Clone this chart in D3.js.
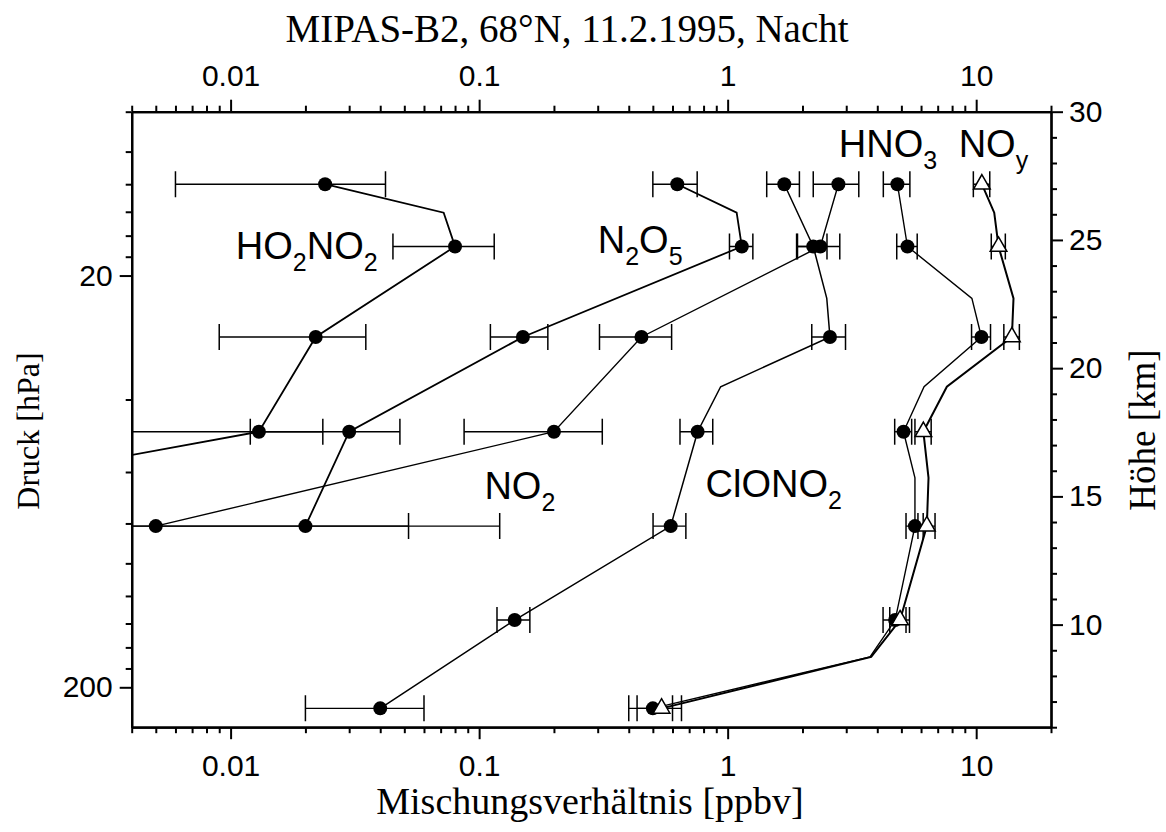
<!DOCTYPE html>
<html>
<head>
<meta charset="utf-8">
<script src="https://cdn.jsdelivr.net/npm/d3@7"></script>
<style>
  body { margin: 0; background: #fff; }
  svg { display: block; }
</style>
</head>
<body>
<svg></svg>
<script>
// pressure levels of the tangent points [hPa]
let rowP = [12, 17, 28.2, 47.9, 81.2, 137.3, 225];

// HO2NO2
let ho2no2Val = [0.024, 0.08, 0.022, 0.013];
let ho2no2Err = [0.018, 0.035, 0.013, 0.0105];
let ho2no2LineP = [12, 14.07, 17, 28.2, 47.9, 81.2];
let ho2no2LineV = [0.024, 0.072, 0.08, 0.022, 0.013, 0.00011];

// N2O5
let n2o5Val = [0.627, 1.14, 0.15, 0.03, 0.02];
let n2o5Err = [0.127, 0.123, 0.039, 0.018, 0.032];
let n2o5LineP = [12, 14.07, 17, 28.2, 47.9, 81.2];
let n2o5LineV = [0.627, 1.087, 1.14, 0.15, 0.03, 0.02];

// NO2
let no2Val = [2.79, 2.36, 0.45, 0.2, 0.005];
let no2Err = [0.58, 0.466, 0.145, 0.113, 0.116];
let no2LineP = [12, 17, 28.2, 47.9, 81.2];
let no2LineV = [2.79, 2.36, 0.45, 0.2, 0.005];

// ClONO2
let clono2Val = [1.69, 2.21, 2.58, 0.757, 0.59, 0.139, 0.04];
let clono2Err = [0.254, 0.3, 0.4, 0.114, 0.089, 0.021, 0.02];
let clono2LineP = [12, 17, 22.72, 28.2, 37.24, 47.9, 81.2, 137.3, 225];
let clono2LineV = [1.69, 2.21, 2.505, 2.58, 0.937, 0.757, 0.59, 0.139, 0.04];

// HNO3
let hno3Val = [4.82, 5.29, 10.5, 5.10, 5.67, 4.72, 0.50];
let hno3Err = [0.59, 0.5, 0.92, 0.4, 0.45, 0.5, 0.1];
let hno3LineP = [12, 17, 22.72, 28.2, 37.24, 47.9, 62, 81.2, 137.3, 168.7, 225];
let hno3LineV = [4.82, 5.29, 9.61, 10.5, 6.17, 5.10, 5.67, 5.67, 4.72, 3.74, 0.50];

// NOy (triangles)
let noyVal = [10.54, 12.3, 13.92, 6.13, 6.33, 4.94, 0.542];
let noyErr = [0.8, 0.8, 1.0, 0.46, 0.5, 0.45, 0.11];
let noyLineP = [12, 14.07, 17, 22.72, 28.2, 37.24, 47.9, 62, 81.2, 137.3, 168.7, 225];
let noyLineV = [10.54, 11.82, 12.3, 14.13, 13.92, 7.62, 6.13, 6.43, 6.33, 4.94, 3.78, 0.542];

// ticks
let xMajor = [0.01, 0.1, 1, 10];
let xTickLabels = ['0.01', '0.1', '1', '10'];
let xMinor = [0.004, 0.005, 0.006, 0.007, 0.008, 0.009,
  0.02, 0.03, 0.04, 0.05, 0.06, 0.07, 0.08, 0.09,
  0.2, 0.3, 0.4, 0.5, 0.6, 0.7, 0.8, 0.9,
  2, 3, 4, 5, 6, 7, 8, 9, 20];
let pMajor = [20, 200];
let pTickLabels = ['20', '200'];
let pMinor = [8, 10, 12, 14, 16, 18, 40, 60, 80, 100, 120, 140, 160, 180];
let hMajor = [10, 15, 20, 25, 30];
let hTickLabels = ['10', '15', '20', '25', '30'];
let hMinor = [6, 7, 8, 9, 11, 12, 13, 14, 16, 17, 18, 19, 21, 22, 23, 24, 26, 27, 28, 29];

// species labels: text parts (1 = subscript), anchor in data units
let labels = [
  { parts: [['HO', 0], ['2', 1], ['NO', 0], ['2', 1]], v: 0.0105, p: 18.2 },
  { parts: [['N', 0], ['2', 1], ['O', 0], ['5', 1]], v: 0.30, p: 17.6 },
  { parts: [['HNO', 0], ['3', 1]], v: 2.8, p: 10.3 },
  { parts: [['NO', 0], ['y', 1]], v: 8.5, p: 10.3 },
  { parts: [['NO', 0], ['2', 1]], v: 0.105, p: 69.9 },
  { parts: [['ClONO', 0], ['2', 1]], v: 0.815, p: 68.9 }
];

let titleText = 'MIPAS-B2, 68°N, 11.2.1995, Nacht';
let xTitle = 'Mischungsverhältnis [ppbv]';
let pTitle = 'Druck [hPa]';
let hTitle = 'Höhe [km]';

let width = 1166;
let height = 832;
let mLeft = 131.7, mRight = 1051, mTop = 111.7, mBottom = 727.2;
let sansFont = '"Liberation Sans", Arial, sans-serif';
let serifFont = '"Liberation Serif", "Times New Roman", serif';

let svg = d3.select('svg').attr('width', width).attr('height', height);

let xScale = d3.scaleLog().domain([0.004, 20]).range([mLeft, mRight]);
let pScale = d3.scaleLog().domain([8, 250]).range([mTop, mBottom]);
let hScale = d3.scaleLinear().domain([6, 30]).range([mBottom, mTop]);

svg.append('defs').append('clipPath').attr('id', 'plotclip').
append('rect').
attr('x', mLeft).attr('y', mTop).
attr('width', mRight - mLeft).attr('height', mBottom - mTop);

let plot = svg.append('g').attr('clip-path', 'url(#plotclip)');

let lineGen = d3.line().
x(d => xScale(d[0])).
y(d => pScale(d[1]));

let series = [
  { val: ho2no2Val, err: ho2no2Err, lv: ho2no2LineV, lp: ho2no2LineP, tri: false, w: 1.8 },
  { val: n2o5Val, err: n2o5Err, lv: n2o5LineV, lp: n2o5LineP, tri: false, w: 1.8 },
  { val: no2Val, err: no2Err, lv: no2LineV, lp: no2LineP, tri: false, w: 1.4 },
  { val: clono2Val, err: clono2Err, lv: clono2LineV, lp: clono2LineP, tri: false, w: 1.5 },
  { val: hno3Val, err: hno3Err, lv: hno3LineV, lp: hno3LineP, tri: false, w: 1.4 },
  { val: noyVal, err: noyErr, lv: noyLineV, lp: noyLineP, tri: true, w: 2 }
];

// profile lines
series.forEach(s => {
  plot.append('path').
  datum(s.lv.map((v, i) => [v, s.lp[i]])).
  attr('d', lineGen).
  attr('fill', 'none').
  attr('stroke', '#000').
  attr('stroke-width', s.w);
});

// error bars
let capH = 13;
series.forEach(s => {
  s.val.forEach((v, i) => {
    let lo = v - s.err[i];
    let hi = v + s.err[i];
    let y = pScale(rowP[i]);
    let x0 = lo > 0 ? xScale(lo) : mLeft - 10;
    let x1 = xScale(hi);
    plot.append('line').
    attr('x1', x0).attr('x2', x1).attr('y1', y).attr('y2', y).
    attr('stroke', '#000').attr('stroke-width', 1.4);
    if (lo > 0) {
      plot.append('line').
      attr('x1', x0).attr('x2', x0).attr('y1', y - capH).attr('y2', y + capH).
      attr('stroke', '#000').attr('stroke-width', 1.5);
    }
    plot.append('line').
    attr('x1', x1).attr('x2', x1).attr('y1', y - capH).attr('y2', y + capH).
    attr('stroke', '#000').attr('stroke-width', 1.5);
  });
});

// markers
series.filter(s => !s.tri).forEach(s => {
  plot.selectAll(null).
  data(s.val).
  enter().
  append('circle').
  attr('cx', d => xScale(d)).
  attr('cy', (d, i) => pScale(rowP[i])).
  attr('r', 7).
  attr('fill', '#000');
});
let triangle = d3.symbol().type(d3.symbolTriangle).size(120);
series.filter(s => s.tri).forEach(s => {
  plot.selectAll(null).
  data(s.val).
  enter().
  append('path').
  attr('d', triangle).
  attr('transform', (d, i) => 'translate(' + xScale(d) + ',' + pScale(rowP[i]) + ')').
  attr('fill', '#fff').
  attr('stroke', '#000').
  attr('stroke-width', 1.5);
});

// axes
let styleAxis = g => {
  g.attr('font-family', sansFont).attr('font-size', 30);
  g.selectAll('.domain').attr('stroke-width', 2.2);
  g.selectAll('.tick line').attr('stroke-width', 2);
  g.selectAll('.tick text').attr('fill', '#000');
};

let drawAxis = (axisFn, scale, major, labelsArr, minor, transform, pad) => {
  svg.append('g').
  attr('transform', transform).
  call(axisFn(scale).tickValues(minor).tickSize(6).tickSizeOuter(0).tickFormat('')).
  call(styleAxis);
  svg.append('g').
  attr('transform', transform).
  call(axisFn(scale).tickValues(major).tickSize(12).tickSizeOuter(0).tickPadding(pad).
  tickFormat((d, i) => labelsArr[i])).
  call(styleAxis);
};

drawAxis(d3.axisTop, xScale, xMajor, xTickLabels, xMinor, 'translate(0,' + mTop + ')', 13.7);
drawAxis(d3.axisBottom, xScale, xMajor, xTickLabels, xMinor, 'translate(0,' + mBottom + ')', 15.5);
drawAxis(d3.axisLeft, pScale, pMajor, pTickLabels, pMinor, 'translate(' + mLeft + ',0)', 7);
drawAxis(d3.axisRight, hScale, hMajor, hTickLabels, hMinor, 'translate(' + mRight + ',0)', 6);

// species labels
labels.forEach(l => {
  let t = svg.append('text').
  attr('x', xScale(l.v)).
  attr('y', pScale(l.p)).
  attr('font-family', sansFont).
  attr('font-size', 38);
  let sub = false;
  l.parts.forEach(pt => {
    let ts = t.append('tspan').text(pt[0]);
    if (pt[1] && !sub) {
      ts.attr('dy', 12).attr('font-size', 25);
      sub = true;
    } else if (!pt[1] && sub) {
      ts.attr('dy', -12);
      sub = false;
    } else if (pt[1]) {
      ts.attr('font-size', 25);
    }
  });
});

// titles
svg.append('text').
attr('x', 567).attr('y', 42).
attr('text-anchor', 'middle').
attr('font-family', serifFont).attr('font-size', 39).
text(titleText);

svg.append('text').
attr('x', 590).attr('y', 814).
attr('text-anchor', 'middle').
attr('font-family', serifFont).attr('font-size', 38).
text(xTitle);

svg.append('text').
attr('transform', 'translate(39,431) rotate(-90)').
attr('text-anchor', 'middle').
attr('font-family', serifFont).attr('font-size', 32).
text(pTitle);

svg.append('text').
attr('transform', 'translate(1155,430) rotate(-90)').
attr('text-anchor', 'middle').
attr('font-family', serifFont).attr('font-size', 37).
text(hTitle);
</script>
</body>
</html>
